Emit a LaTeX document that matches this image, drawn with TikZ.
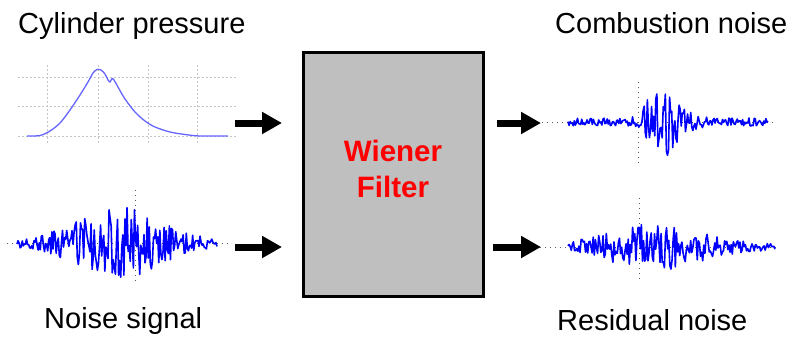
\documentclass[tikz,border=0pt]{standalone}
\usepackage{fontspec}
\setmainfont{Liberation Sans}
\usetikzlibrary{arrows.meta}
\begin{document}
\begin{tikzpicture}[x=1pt,y=-1pt,
  lbl/.style={anchor=base west,inner sep=0pt,font=\fontsize{29}{34}\selectfont},
  bigarrow/.style={line width=7pt,-{Triangle[length=20pt,width=21pt]}},
  sig/.style={blue,line width=1.6pt,line join=round},
  axisdots/.style={gray!70!black,line width=1pt,dash pattern=on 1pt off 4pt},
  griddots/.style={gray!45,line width=1pt,dash pattern=on 2pt off 2pt},
  declare function={
    envA(\t)=3.5+33*exp(-min(((\t-118)/55)^2,20));
    envC(\t)=4+36*exp(-min(((\t-657)/ifthenelse(\t<657,14,26))^2,20));
    envR(\t)=3.5+20*exp(-min(((\t-655)/60)^2,20));
  }]
\useasboundingbox (0,0) rectangle (796,338);

% labels
\node[lbl] (lcyl) at (18,33) {Cylinder pressure};
\node[lbl] (lcomb) at (555,33) {Combustion noise};
\node[lbl] (lnoise) at (44,328) {Noise signal};
\node[lbl] (lres) at (557,330) {Residual noise};

% Wiener filter box
\node[draw=black,line width=3pt,fill=black!25,minimum width=180pt,minimum height=244pt,inner sep=0pt] (wf) at (393,174) {};
\node[anchor=base,inner sep=0pt,text=red,font=\fontsize{29.5}{36}\selectfont\bfseries] (wl1) at (393,161) {Wiener};
\node[anchor=base,inner sep=0pt,text=red,font=\fontsize{29.5}{36}\selectfont\bfseries] (wl2) at (393,197) {Filter};

% arrows
\coordinate (a1s) at (235,123); \coordinate (a1e) at (282,123);
\coordinate (a2s) at (235,247); \coordinate (a2e) at (282,247);
\coordinate (a3s) at (497,123); \coordinate (a3e) at (541,123);
\coordinate (a4s) at (493,247); \coordinate (a4e) at (541,247);
\draw[bigarrow] (a1s) -- (a1e);
\draw[bigarrow] (a2s) -- (a2e);
\draw[bigarrow] (a3s) -- (a3e);
\draw[bigarrow] (a4s) -- (a4e);

% cylinder pressure plot
\foreach \yy in {77,106,136} \draw[griddots] (18,\yy) -- (237,\yy);
\foreach \xx in {47,98,148,197} \draw[griddots] (\xx,65) -- (\xx,145);
\draw[blue!60,line width=1.3pt] plot[smooth,tension=0.5] coordinates {
 (27,136) (40,135.5) (50,131) (60,123) (70,110) (80,95) (88,82) (93,73) (97,69.5)
 (101,70) (105,74) (108,80) (110,82) (112,78.5) (114,80) (118,87) (125,99)
 (135,112) (145,121) (155,127) (170,132) (185,134.5) (200,136) (228,136)};

\pgfmathsetseed{7}
% noise signal
\draw[axisdots] (7,243) -- (228,243);
\draw[axisdots] (135,190) -- (135,283);
\draw[sig] plot[domain=17:217,samples=190] (\x,{243+envA(\x)*rand});

% combustion noise
\draw[axisdots] (542,122) -- (774,122);
\draw[axisdots] (638,82) -- (638,163);
\draw[sig] plot[domain=568:768,samples=190] (\x,{122+envC(\x)*rand});

% residual noise
\draw[axisdots] (540,247) -- (777,247);
\draw[axisdots] (639,198) -- (639,281);
\draw[sig] plot[domain=568:775,samples=190] (\x,{247+envR(\x)*rand});
\end{tikzpicture}
\end{document}
